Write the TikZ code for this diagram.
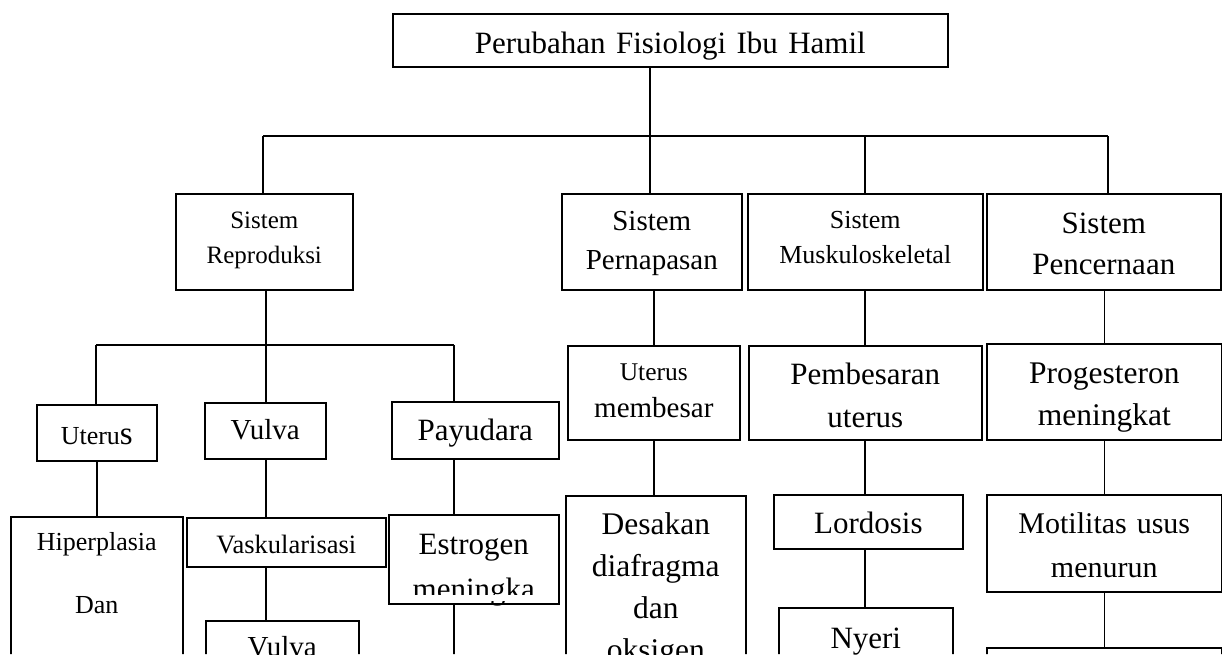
\documentclass[tikz,border=0pt]{standalone}
\usepackage{fontspec}
\setmainfont{Liberation Serif}

\newcommand{\ukuran}[2]{\fontsize{#1}{#2}\selectfont}

\begin{document}
\begin{tikzpicture}[x=1pt, y=-1pt,
      kotak/.style={draw, line width=1.6pt, inner sep=0pt, anchor=north west, align=center},
      garis/.style={line width=1.6pt},
    ]
    \useasboundingbox (0,0) rectangle (1222,654);
    \clip (0,0) rectangle (1222,594) (0,594) rectangle (390,654)
          (556,594) rectangle (1222,654) (390,601) rectangle (556,654);

    % judul
    \node[kotak, text width=555pt, text height=40pt, text depth=13pt, font=\ukuran{31}{37}] (judul) at (392,13) {Perubahan Fisiologi Ibu Hamil};

    % sistem
    \node[kotak, text width=177pt, text height=35pt, text depth=61pt, font=\ukuran{25}{35}] (reproduksi) at (175,193) {Sistem\\Reproduksi};
    \node[kotak, text width=180pt, text height=37pt, text depth=59pt, font=\ukuran{29}{39}] (pernapasan) at (561,193) {Sistem\\Pernapasan};
    \node[kotak, text width=235pt, text height=35pt, text depth=61pt, font=\ukuran{26}{35}] (muskulo) at (747,193) {Sistem\\Muskuloskeletal};
    \node[kotak, text width=234pt, text height=40pt, text depth=56pt, font=\ukuran{31}{41}] (pencernaan) at (986,193) {Sistem\\Pencernaan};

    % reproduksi
    \node[kotak, text width=120pt, text height=40pt, text depth=16pt, font=\ukuran{26}{30}] (uterus) at (36,404) {Uteru{\ukuran{33}{33}s}};
    \node[kotak, text width=121pt, text height=37pt, text depth=19pt, font=\ukuran{29}{35}] (vulva) at (204,402) {Vulva};
    \node[kotak, text width=167pt, text height=39pt, text depth=18pt, font=\ukuran{31}{37}] (payudara) at (391,401) {Payudara};
    \node[kotak, text width=172pt, text height=34pt, text depth=150pt, font=\ukuran{26}{63}] (hiperplasia) at (10,516) {Hiperplasia\\Dan};
    \node[kotak, text width=199pt, text height=36pt, text depth=13pt, font=\ukuran{26.5}{32}] (vaskularisasi) at (186,517) {Vaskularisasi};
    \node[kotak, text width=153pt, text height=36pt, text depth=80pt, font=\ukuran{29}{35}] (vulvadua) at (205,620) {Vulva};
    \node[kotak, text width=170pt, text height=40pt, text depth=49pt, font=\ukuran{31}{45}] (estrogen) at (388,514) {Estrogen\\meningka};

    % pernapasan
    \node[kotak, text width=172pt, text height=35pt, text depth=59pt, font=\ukuran{29}{37}] (uterusbesar) at (567,345) {{\ukuran{25.5}{37}Uterus}\\membesar};
    \node[kotak, text width=180pt, text height=39pt, text depth=200pt, font=\ukuran{31.5}{42}] (desakan) at (565,495) {Desakan\\diafragma\\dan\\oksigen};

    % muskuloskeletal
    \node[kotak, text width=233pt, text height=39pt, text depth=55pt, font=\ukuran{31}{43}] (pembesaran) at (748,345) {Pembesaran\\uterus};
    \node[kotak, text width=189pt, text height=39pt, text depth=15pt, font=\ukuran{31}{37}] (lordosis) at (773,494) {Lordosis};
    \node[kotak, text width=174pt, text height=41pt, text depth=100pt, font=\ukuran{31}{37}] (nyeri) at (778,607) {Nyeri};

    % pencernaan
    \node[kotak, text width=235pt, text height=40pt, text depth=56pt, font=\ukuran{31.5}{42}] (progesteron) at (986,343) {Progesteron\\meningkat};
    \node[kotak, text width=235pt, text height=39pt, text depth=58pt, font=\ukuran{30}{44}] (motilitas) at (986,494) {Motilitas usus\\menurun};
    \node[kotak, text width=235pt, text height=10pt, text depth=60pt] (bawah) at (986,647) {};

    % garis
    \coordinate (pusat) at (650,136);
    \coordinate (buskiri) at (263,136);
    \coordinate (buskanan) at (1108,136);
    \coordinate (cabangotot) at (865,136);
    \draw[garis] (pusat |- judul.south) -- (pusat);
    \draw[garis] (buskiri) -- (buskanan);
    \draw[garis] (buskiri) -- (buskiri |- reproduksi.north);
    \draw[garis] (pusat) -- (pusat |- pernapasan.north);
    \draw[garis] (cabangotot) -- (cabangotot |- muskulo.north);
    \draw[garis] (buskanan) -- (buskanan |- pencernaan.north);

    \coordinate (reptengah) at (266,345);
    \coordinate (repkiri) at (96,345);
    \coordinate (repkanan) at (454,345);
    \coordinate (ujung) at (454,660);
    \draw[garis] (reptengah |- reproduksi.south) -- (reptengah);
    \draw[garis] (repkiri) -- (repkanan);
    \draw[garis] (repkiri) -- (repkiri |- uterus.north);
    \draw[garis] (reptengah) -- (reptengah |- vulva.north);
    \draw[garis] (repkanan) -- (repkanan |- payudara.north);
    \draw[garis] (uterus.south) -- (uterus.south |- hiperplasia.north);
    \draw[garis] (reptengah |- vulva.south) -- (reptengah |- vaskularisasi.north);
    \draw[garis] (reptengah |- vaskularisasi.south) -- (reptengah |- vulvadua.north);
    \draw[garis] (repkanan |- payudara.south) -- (repkanan |- estrogen.north);
    \draw[garis] (repkanan |- estrogen.south) -- (ujung);

    \draw[garis] (uterusbesar.north |- pernapasan.south) -- (uterusbesar.north);
    \draw[garis] (uterusbesar.south) -- (uterusbesar.south |- desakan.north);

    \draw[garis] (cabangotot |- muskulo.south) -- (cabangotot |- pembesaran.north);
    \draw[garis] (cabangotot |- pembesaran.south) -- (cabangotot |- lordosis.north);
    \draw[garis] (cabangotot |- lordosis.south) -- (cabangotot |- nyeri.north);

    \draw[garis] (progesteron.north |- pencernaan.south) -- (progesteron.north);
    \draw[garis] (progesteron.south) -- (progesteron.south |- motilitas.north);
    \draw[garis] (progesteron.south |- motilitas.south) -- (progesteron.south |- bawah.north);
\end{tikzpicture}
\end{document}
